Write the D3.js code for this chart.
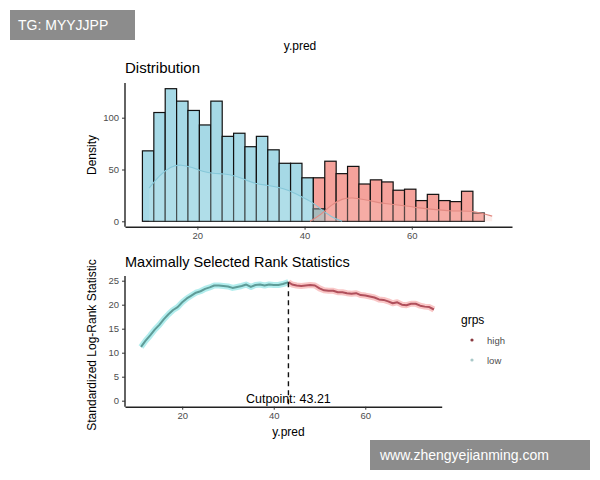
<!DOCTYPE html>
<html><head><meta charset="utf-8">
<script src="https://cdn.jsdelivr.net/npm/d3@7"></script>
<style>body{margin:0;background:#fff;font-family:"Liberation Sans",Arial,sans-serif}</style>
</head><body><svg id="c" width="600" height="480"></svg>
<script>
const binStarts=[9.75,11.88,14.0,16.13,18.25,20.38,22.51,24.63,26.76,28.88,31.01,33.14,35.26,37.39,39.51,41.64,43.77,45.89,48.02,50.14,52.27,54.4,56.52,58.65,60.77,62.9,65.03,67.15,69.28,71.4,73.53];
const binWidth=2.127;
const lowCounts=[68,105,128,116,107,93,116,82,85,72,82,69,56,56,42,12,0,0,0,0,0,0,0,0,0,0,0,0,0,0,0];
const highCounts=[0,0,0,0,0,0,0,0,0,0,0,0,0,0,0,42,58,46,53,36,40,38,30,31,20,26,20,19,29,8,0];
const lowDensX=[11,13,15,17,19,21,23,25,27,29,31,33,35,37,39,41,43,45,47];
const lowDensY=[32,45,53,55,52,48,46,46,44,40,36,35,33,30,25,20,12,4,0];
const highDensX=[41,43,45,47,49,51,53,55,57,59,61,63,65,67,69,71,73,75];
const highDensY=[0,6,16,22,23,21,19,17,16,15,13,12,11,10,10,10,8,5];
const curveLowX=[11,12,13,14,15,16,17,18,19,20,21,22,23,24,25,26,27,28,29,30,31,32,33,34,35,36,37,38,39,40,41,42,43.21];
const curveLowY=[11.2,12.5,13.6,14.8,15.8,17.0,18.0,18.9,19.5,20.5,21.3,21.9,22.5,22.8,23.3,23.6,24.0,24.0,23.9,23.8,23.5,23.7,23.9,24.2,23.7,24.1,24.2,24.0,24.2,24.1,24.1,24.3,24.7];
const curveHighX=[43.21,44,45,46,47,48,49,50,51,52,53,54,55,56,57,58,59,60,61,62,63,64,65,66,67,68,69,70,71,72,73,74,75];
const curveHighY=[24.7,24.2,24.0,23.9,24.0,24.1,24.0,23.4,23.0,22.9,22.9,22.6,22.6,22.4,22.3,22.4,22.0,21.9,21.7,21.5,21.1,21.0,20.7,20.3,20.5,20.0,19.9,20.2,20.2,19.8,19.6,19.5,19.0];
const xTicks=[20,40,60];
const yTicksTop=[0,50,100];
const yTicksBot=[0,5,10,15,20,25];
const cutpoint=43.21;
const groups=["high","low"];

const svg=d3.select("#c");
const grey="#4d4d4d";
const xT=d3.scaleLinear().domain([6.5,78.7]).range([125,512]);
const yT=d3.scaleLinear().domain([0,100]).range([221.3,117.7]);
const gT=svg.append("g");
const blue="#a6d9e6",red="#f5a29b";
binStarts.forEach((s,i)=>{
  if(lowCounts[i]>0) gT.append("rect").attr("x",xT(s)).attr("width",xT(s+binWidth)-xT(s)).attr("y",yT(lowCounts[i])).attr("height",yT(0)-yT(lowCounts[i])).attr("fill",blue).attr("stroke","#111").attr("stroke-width",1.2);
});
binStarts.forEach((s,i)=>{
  if(highCounts[i]>0) gT.append("rect").attr("x",xT(s)).attr("width",xT(s+binWidth)-xT(s)).attr("y",yT(highCounts[i])).attr("height",yT(0)-yT(highCounts[i])).attr("fill",red).attr("stroke","#111").attr("stroke-width",1.2);
});
binStarts.forEach((s,i)=>{
  if(lowCounts[i]>0&&highCounts[i]>0) gT.append("rect").attr("x",xT(s)).attr("width",xT(s+binWidth)-xT(s)).attr("y",yT(lowCounts[i])).attr("height",yT(0)-yT(lowCounts[i])).attr("fill","#9aa5a5").attr("stroke","#111").attr("stroke-width",1.2);
});
const areaT=(xs,ys)=>d3.area().x((d,i)=>xT(xs[i])).y0(yT(0)).y1(d=>yT(d)).curve(d3.curveBasis)(ys);
const lineT=(xs,ys)=>d3.line().x((d,i)=>xT(xs[i])).y(d=>yT(d)).curve(d3.curveBasis)(ys);
gT.append("path").attr("d",areaT(lowDensX,lowDensY)).attr("fill","#c8eaf2").attr("opacity",0.3);
gT.append("path").attr("d",areaT(highDensX,highDensY)).attr("fill","#f9c2bc").attr("opacity",0.3);
gT.append("path").attr("d",lineT(lowDensX,lowDensY)).attr("fill","none").attr("stroke","#86c8d9").attr("stroke-width",1.1);
gT.append("path").attr("d",lineT(highDensX,highDensY)).attr("fill","none").attr("stroke","#e28a82").attr("stroke-width",1.1);
const axT=gT.append("g").attr("transform","translate(0,226.7)").call(d3.axisBottom(xT).tickValues(xTicks).tickSize(3).tickSizeOuter(0));
const ayT=gT.append("g").attr("transform","translate(125,0)").call(d3.axisLeft(yT).tickValues(yTicksTop).tickSize(3).tickSizeOuter(0));
d3.select(ayT.node()).select(".domain").attr("d","M0,83V226.7");
[axT,ayT].forEach(a=>{a.selectAll(".domain").attr("stroke","#222").attr("stroke-width",1.4);a.selectAll("text").attr("fill",grey).attr("font-size",9.5).attr("font-family","Liberation Sans");a.selectAll(".tick line").attr("stroke","#333");});
svg.append("text").attr("x",96).attr("y",155).attr("transform","rotate(-90,96,155)").attr("text-anchor","middle").attr("font-size",12).text("Density");
svg.append("text").attr("x",300).attr("y",50).attr("text-anchor","middle").attr("font-size",12).text("y.pred");
svg.append("text").attr("x",125).attr("y",73).attr("font-size",15).text("Distribution");

const xB=d3.scaleLinear().domain([7.5,76.7]).range([125,441.7]);
const yB=d3.scaleLinear().domain([0,25]).range([400.7,280.7]);
const gB=svg.append("g");
const lineB=(xs,ys)=>d3.line().x((d,i)=>xB(xs[i])).y(d=>yB(d))(ys);
gB.append("path").attr("d",lineB(curveLowX,curveLowY)).attr("fill","none").attr("stroke","#55d6d8").attr("stroke-width",6).attr("opacity",0.45).attr("stroke-linejoin","round");
gB.append("path").attr("d",lineB(curveHighX,curveHighY)).attr("fill","none").attr("stroke","#f28080").attr("stroke-width",6).attr("opacity",0.45).attr("stroke-linejoin","round");
gB.append("path").attr("d",lineB(curveLowX,curveLowY)).attr("fill","none").attr("stroke","#5e9c98").attr("stroke-width",2).attr("stroke-linejoin","round");
gB.append("path").attr("d",lineB(curveHighX,curveHighY)).attr("fill","none").attr("stroke","#b0505c").attr("stroke-width",2).attr("stroke-linejoin","round");
gB.append("line").attr("x1",xB(cutpoint)).attr("x2",xB(cutpoint)).attr("y1",yB(24.7)).attr("y2",406.7).attr("stroke","#111").attr("stroke-width",1.4).attr("stroke-dasharray","5,4");
gB.append("text").attr("x",xB(cutpoint)).attr("y",403).attr("text-anchor","middle").attr("font-size",12.5).text("Cutpoint: "+cutpoint);
const axB=gB.append("g").attr("transform","translate(0,406.7)").call(d3.axisBottom(xB).tickValues(xTicks).tickSize(3).tickSizeOuter(0));
const ayB=gB.append("g").attr("transform","translate(125,0)").call(d3.axisLeft(yB).tickValues(yTicksBot).tickSize(3).tickSizeOuter(0));
d3.select(ayB.node()).select(".domain").attr("d","M0,276V406.7");
[axB,ayB].forEach(a=>{a.selectAll(".domain").attr("stroke","#222").attr("stroke-width",1.4);a.selectAll("text").attr("fill",grey).attr("font-size",9.5).attr("font-family","Liberation Sans");a.selectAll(".tick line").attr("stroke","#333");});
svg.append("text").attr("x",96).attr("y",345).attr("transform","rotate(-90,96,345)").attr("text-anchor","middle").attr("font-size",12).text("Standardized Log-Rank Statistic");
svg.append("text").attr("x",xB(cutpoint)).attr("y",436).attr("text-anchor","middle").attr("font-size",12).text("y.pred");
svg.append("text").attr("x",125).attr("y",267).attr("font-size",14.5).text("Maximally Selected Rank Statistics");
svg.append("text").attr("x",461).attr("y",324).attr("font-size",12).text("grps");
const legCol={high:"#8a3a40",low:"#a8c8c8"};
groups.forEach((g,i)=>{
  svg.append("circle").attr("cx",472).attr("cy",340+i*20).attr("r",1.6).attr("fill",legCol[g]);
  svg.append("text").attr("x",487).attr("y",344+i*20).attr("font-size",9.5).attr("fill",grey).text(g);
});
svg.append("rect").attr("x",10).attr("y",10).attr("width",125).attr("height",30).attr("fill","#8c8c8c");
svg.append("text").attr("x",18).attr("y",30).attr("font-size",14).attr("fill","#fff").text("TG: MYYJJPP");
svg.append("rect").attr("x",370).attr("y",440).attr("width",220).attr("height",30).attr("fill","#8c8c8c");
svg.append("text").attr("x",380).attr("y",460).attr("font-size",14).attr("fill","#fff").text("www.zhengyejianming.com");
</script></body></html>
